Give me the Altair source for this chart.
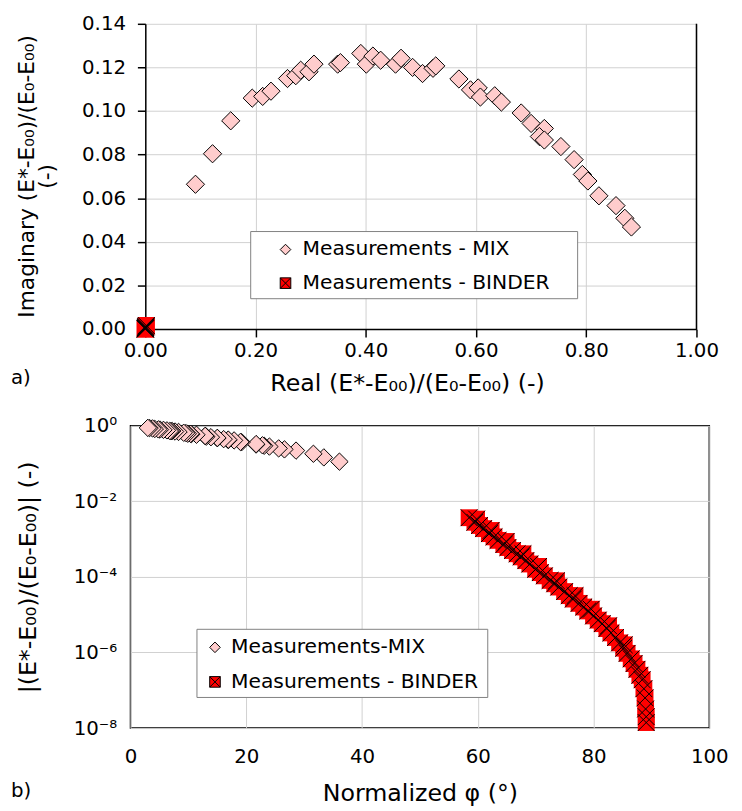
import altair as alt
import pandas as pd

FONT = "DejaVu Sans"
FS = 20
TFS = 24
LFS = 20.5
GRID = "#d0d0d0"
PINK = "#ffcccc"
RED = "#ff0000"
X_PATH = "M-1,-1L1,1M-1,1L1,-1"
BOX_X_PATH = "M-1,-1H1V1H-1ZM-1,-1L1,1M-1,1L1,-1"

series_a = ["Measurements - MIX", "Measurements - BINDER"]
series_b = ["Measurements-MIX", "Measurements - BINDER"]

# ---- panel a) : Cole-Cole plane ----
mix_real = [0.091, 0.122, 0.155, 0.194, 0.213, 0.228, 0.258, 0.273, 0.282, 0.297,
            0.306, 0.349, 0.354, 0.391, 0.401, 0.413, 0.427, 0.454, 0.464, 0.485,
            0.503, 0.522, 0.527, 0.569, 0.590, 0.604, 0.608, 0.634, 0.646, 0.682,
            0.700, 0.724, 0.715, 0.724, 0.754, 0.778, 0.793, 0.803, 0.823, 0.854,
            0.870, 0.882]
mix_imag = [0.0664, 0.0804, 0.0955, 0.1059, 0.1067, 0.1091, 0.1149, 0.1162, 0.1187, 0.1180,
            0.1215, 0.1215, 0.1222, 0.1264, 0.1215, 0.1252, 0.1233, 0.1215, 0.1242, 0.1200,
            0.1172, 0.1196, 0.1207, 0.1147, 0.1097, 0.1106, 0.1064, 0.1070, 0.1041, 0.0991,
            0.0943, 0.0920, 0.0883, 0.0867, 0.0837, 0.0777, 0.0709, 0.0679, 0.0611, 0.0566,
            0.0508, 0.0468]
binder_real = [0.0018, 0.0010, 0.0005, 0.0002, 0.0001, 0.0]
binder_imag = [0.0016, 0.0011, 0.0007, 0.0003, 0.0001, 0.0]

real_ticks = [0.0, 0.2, 0.4, 0.6, 0.8, 1.0]
imag_ticks = [0.0, 0.02, 0.04, 0.06, 0.08, 0.10, 0.12, 0.14]

# ---- panel b) : Black space ----
mix_phi = [36.1, 33.4, 31.6, 28.6, 26.6, 25.6, 24.0, 23.1, 22.8, 21.7,
           21.7, 19.2, 19.0, 17.9, 16.9, 16.9, 16.1, 15.0, 15.0, 13.9,
           13.1, 12.9, 12.9, 11.4, 10.5, 10.4, 9.9, 9.6, 9.2, 8.3,
           7.7, 7.2, 7.0, 6.8, 6.3, 5.7, 5.1, 4.8, 4.2, 3.8,
           3.3, 3.0]
mix_abs = [0.1127, 0.1461, 0.1821, 0.2210, 0.2382, 0.2528, 0.2824, 0.2967, 0.3060, 0.3196,
           0.3292, 0.3695, 0.3745, 0.4109, 0.4190, 0.4316, 0.4444, 0.4700, 0.4803, 0.4996,
           0.5165, 0.5355, 0.5406, 0.5804, 0.6001, 0.6140, 0.6172, 0.6430, 0.6543, 0.6892,
           0.7063, 0.7298, 0.7204, 0.7292, 0.7586, 0.7819, 0.7962, 0.8059, 0.8253, 0.8559,
           0.8715, 0.8832]
binder_phi = [58.5, 59.5, 60.3, 61.0, 62.0, 62.8, 63.5, 64.5, 65.2, 66.0,
              66.8, 67.5, 68.3, 69.0, 70.0, 70.8, 71.5, 72.5, 73.3, 74.0,
              75.0, 75.8, 76.5, 77.5, 78.3, 79.0, 80.0, 80.8, 81.5, 82.3,
              83.0, 83.8, 84.5, 85.2, 85.8, 86.5, 87.0, 87.5, 88.0, 88.4,
              88.7, 88.9, 89.0, 89.1, 89.1,
              59.8, 62.3, 64.9, 67.8, 70.5, 73.6, 76.8, 79.6, 82.6, 85.3]
binder_abs = [3.7e-3, 2.8e-3, 2.3e-3, 1.9e-3, 1.4e-3, 1.15e-3, 9.3e-4, 7.2e-4, 6.0e-4, 5.0e-4,
              4.1e-4, 3.4e-4, 2.7e-4, 2.2e-4, 1.6e-4, 1.3e-4, 1.07e-4, 8.1e-5, 6.6e-5, 5.4e-5,
              4.1e-5, 3.2e-5, 2.6e-5, 2.0e-5, 1.6e-5, 1.26e-5, 9.3e-6, 7.2e-6, 5.8e-6, 4.3e-6,
              3.3e-6, 2.5e-6, 1.8e-6, 1.3e-6, 9.5e-7, 6.8e-7, 5.1e-7, 3.6e-7, 2.5e-7, 1.9e-7,
              1.1e-7, 6.3e-8, 3.2e-8, 2.0e-8, 1.4e-8,
              3.4e-3, 1.7e-3, 8.7e-4, 4.1e-4, 1.9e-4, 7.9e-5, 3.2e-5, 1.4e-5, 5.1e-6, 1.6e-6]

phi_ticks = [0, 20, 40, 60, 80, 100]
abs_ticks = [1, 1e-2, 1e-4, 1e-6, 1e-8]
abs_tick_labels = ["10\u2070", "10\u207b\u00b2", "10\u207b\u2074", "10\u207b\u2076", "10\u207b\u2078"]

abs_label_expr = " : ".join(
    f"datum.value > {v / 10!r} ? '{lab}'" for v, lab in zip(abs_ticks, abs_tick_labels)
) + " : ''"


def legend_box(x0, y0, w, h):
    """White framed box drawn behind a legend (legend frame, pixel placed)."""
    return alt.Chart(pd.DataFrame({"k": [0]})).mark_rect(
        fill="white", stroke="#808080", strokeWidth=1).encode(
        x=alt.value(x0), x2=alt.value(x0 + w), y=alt.value(y0), y2=alt.value(y0 + h))


# ================= panel a =================
W_A, H_A, X_OFF = 573, 309, 15

sx_a = alt.Scale(domain=[0, 1], range=[X_OFF, W_A], nice=False, zero=False)
sy_a = alt.Scale(domain=[0, 0.14], nice=False, zero=False)
ax_xa = alt.Axis(values=real_ticks, format=".2f", title="Real (E*-E\u2080\u2080)/(E\u2080-E\u2080\u2080) (-)",
                 grid=True, gridColor=GRID, gridWidth=1, domainColor="black", domainWidth=1.5,
                 tickColor="black", tickSize=8, tickWidth=1.5, labelPadding=4, labelFlush=False,
                 titleY=55, titleX=280, titleBaseline="middle")
ax_ya = alt.Axis(values=imag_ticks, format=".2f",
                 title=["Imaginary (E*-E\u2080\u2080)/(E\u2080-E\u2080\u2080)", "(-)"],
                 offset=-X_OFF, grid=True, gridColor=GRID, gridWidth=1,
                 domainColor="black", domainWidth=1.5, tickColor="black", tickSize=8,
                 tickWidth=1.5, labelPadding=12, labelFlush=False, titleAngle=270, titleX=-120,
                 titleY=154, titleAlign="center", titleBaseline="middle", titleLineHeight=20,
                 titleFontSize=22)

legend_a = alt.Legend(orient="none", legendX=121.7, legendY=210.3, title=None,
                      fillColor="transparent", strokeColor="transparent", padding=8, rowPadding=13,
                      symbolSize=115, symbolOffset=17, labelOffset=7, labelLimit=500,
                      symbolStrokeWidth=1, labelFontSize=LFS)

top_mix_df = pd.DataFrame({"re": mix_real, "im": mix_imag, "series": series_a[0]})
top_bin_df = pd.DataFrame({"re": binder_real, "im": binder_imag})

xa = alt.X("re:Q", scale=sx_a, axis=ax_xa)
ya = alt.Y("im:Q", scale=sy_a, axis=ax_ya)

border_a = alt.Chart(pd.DataFrame({"re": [real_ticks[-1]], "im": [imag_ticks[0]], "im2": [imag_ticks[-1]]})).mark_rule(
    color="black", strokeWidth=1.5).encode(x=xa, y=ya, y2="im2:Q")

mix_a = alt.Chart(top_mix_df).mark_point(filled=True, size=340, strokeWidth=1, opacity=1).encode(
    x=xa, y=ya,
    shape=alt.Shape("series:N", scale=alt.Scale(domain=series_a, range=["diamond", BOX_X_PATH]), legend=legend_a),
    fill=alt.Fill("series:N", scale=alt.Scale(domain=series_a, range=[PINK, RED]), legend=legend_a),
    stroke=alt.Stroke("series:N", scale=alt.Scale(domain=series_a, range=["black", "black"]), legend=legend_a),
)
bin_a_sq = alt.Chart(top_bin_df).mark_square(size=300, color=RED, opacity=1).encode(x=xa, y=ya)
bin_a_x = alt.Chart(top_bin_df).mark_point(shape=X_PATH, size=300, color="black", strokeWidth=1,
                                            filled=False, opacity=1).encode(x=xa, y=ya)
lab_a = alt.Chart(pd.DataFrame({"t": ["a)"]})).mark_text(
    align="left", baseline="middle", fontSize=FS, font=FONT, color="black").encode(
    text="t:N", x=alt.value(-121), y=alt.value(359))

top = alt.layer(border_a, legend_box(121.7, 210.3, 331, 68), mix_a, bin_a_sq, bin_a_x, lab_a).properties(
    width=W_A, height=H_A, view=alt.ViewBackground(strokeOpacity=0))

# ================= panel b =================
W_B, H_B = 586, 306
sx_b = alt.Scale(domain=[0, 100], nice=False, zero=False)
sy_b = alt.Scale(type="log", domain=[1e-8, 1], nice=False)
ax_xb = alt.Axis(values=phi_ticks, format="d", title="Normalized \u03c6 (\u00b0)", grid=True,
                 gridColor=GRID, gridWidth=1, domain=False, ticks=False, tickSize=0,
                 labelPadding=19, labelFlush=False, titleY=66, titleBaseline="middle")
ax_yb = alt.Axis(values=abs_ticks, labelExpr=abs_label_expr,
                 title="|(E*-E\u2080\u2080)/(E\u2080-E\u2080\u2080)| (-)", grid=True, gridColor=GRID,
                 gridWidth=1, domain=False, ticks=False, tickSize=0, labelPadding=14,
                 labelFlush=False, titleAngle=270, titleX=-103.5, titleY=H_B / 2,
                 titleAlign="center", titleBaseline="middle")

legend_b = alt.Legend(orient="none", legendX=67.3, legendY=206, title=None,
                      fillColor="transparent", strokeColor="transparent", padding=8, rowPadding=14,
                      symbolSize=115, symbolOffset=0, labelOffset=6, labelLimit=500,
                      symbolStrokeWidth=1, labelFontSize=LFS)

bot_mix_df = pd.DataFrame({"phi": mix_phi, "v": mix_abs, "series": series_b[0]})
bot_bin_df = pd.DataFrame({"phi": binder_phi, "v": binder_abs})

xb = alt.X("phi:Q", scale=sx_b, axis=ax_xb)
yb = alt.Y("v:Q", scale=sy_b, axis=ax_yb)

mix_b = alt.Chart(bot_mix_df).mark_point(filled=True, size=310, strokeWidth=1, opacity=1).encode(
    x=xb, y=yb,
    shape=alt.Shape("series:N", scale=alt.Scale(domain=series_b, range=["diamond", BOX_X_PATH]), legend=legend_b),
    fill=alt.Fill("series:N", scale=alt.Scale(domain=series_b, range=[PINK, RED]), legend=legend_b),
    stroke=alt.Stroke("series:N", scale=alt.Scale(domain=series_b, range=["black", "black"]), legend=legend_b),
)
bin_b_sq = alt.Chart(bot_bin_df).mark_square(size=290, color=RED, opacity=1).encode(x=xb, y=yb)
bin_b_x = alt.Chart(bot_bin_df).mark_point(shape=X_PATH, size=290, color="black", strokeWidth=1,
                                            filled=False, opacity=1).encode(x=xb, y=yb)
lab_b = alt.Chart(pd.DataFrame({"t": ["b)"]})).mark_text(
    align="left", baseline="middle", fontSize=FS, font=FONT, color="black").encode(
    text="t:N", x=alt.value(-121), y=alt.value(370))

bottom = alt.layer(legend_box(67.3, 206, 294.4, 69), mix_b, bin_b_sq, bin_b_x, lab_b).properties(
    width=W_B, height=H_B, view=alt.ViewBackground(stroke="black", strokeWidth=1.5))

chart = alt.vconcat(top, bottom, spacing=20).resolve_scale(
    shape="independent", fill="independent", stroke="independent", x="independent", y="independent"
).resolve_legend(shape="independent", fill="independent", stroke="independent").properties(
    padding={"left": 2, "top": 1, "right": 5, "bottom": 5}
).configure(font=FONT).configure_axis(
    labelFont=FONT, titleFont=FONT, labelFontSize=FS, titleFontSize=TFS,
    labelColor="black", titleColor="black", titleFontWeight="normal"
).configure_legend(labelFont=FONT, labelFontSize=LFS, labelColor="black")

chart.save("out.html", embed_options={"renderer": "svg", "actions": False})
